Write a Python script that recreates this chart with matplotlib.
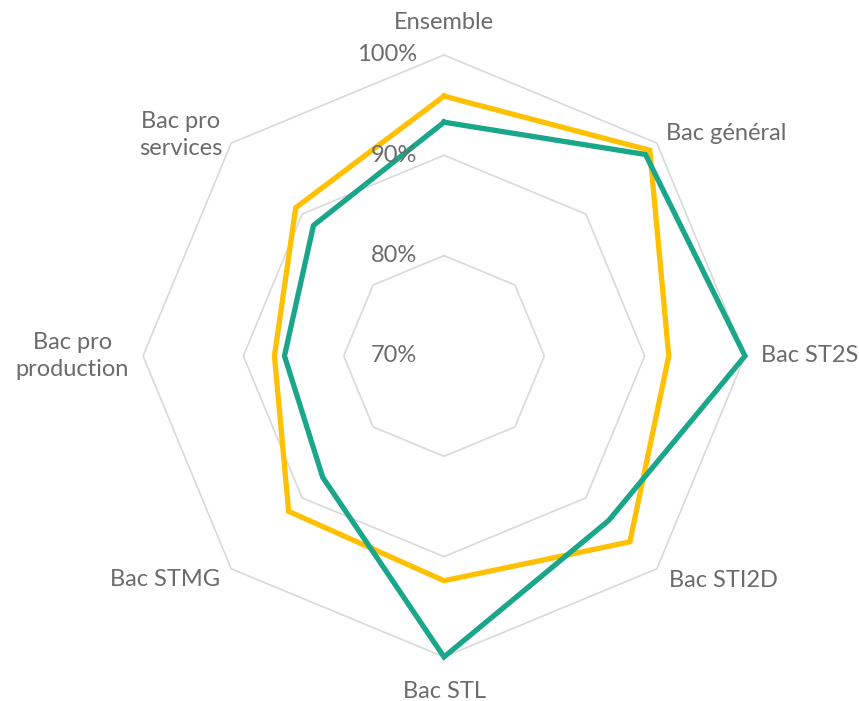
import numpy as np
import matplotlib.pyplot as plt
import matplotlib.transforms as mtransforms

categories = ['Ensemble', 'Bac général', 'Bac ST2S', 'Bac STI2D', 'Bac STL',
              'Bac STMG', 'Bac pro\nproduction', 'Bac pro\nservices']
serie_jaune = [95.9, 99.0, 92.4, 96.2, 92.4, 91.9, 86.9, 90.9]
serie_verte = [93.3, 98.4, 100.0, 93.2, 100.0, 87.1, 85.9, 88.4]
grid_vals = [80, 90, 100]
tick_vals = [70, 80, 90, 100]
tick_labels = ['70%', '80%', '90%', '100%']

plt.rcParams['font.family'] = ['Lato', 'DejaVu Sans']
txt_col = '#6b6b6b'

n = len(categories)
theta = np.arange(n) * 2 * np.pi / n
theta_c = np.append(theta, theta[0])

fig = plt.figure(figsize=(8.59, 7.01), dpi=100)
ax = fig.add_axes([0.1665, 0.0628, 0.7008, 0.8588], projection='polar')
ax.set_theta_offset(np.pi / 2)
ax.set_theta_direction(-1)
ax.set_ylim(70, 100)
ax.grid(False)
ax.spines['polar'].set_visible(False)
ax.set_xticks([])
ax.set_yticks([])

# octagon gridlines
for g in grid_vals:
    ax.plot(theta_c, [g] * (n + 1), color='#d9d9d9', lw=1.2, zorder=1, clip_on=False)

ax.plot(theta_c, serie_jaune + serie_jaune[:1], color='#FFC000', lw=3.8, zorder=3,
        clip_on=False, solid_joinstyle='miter')
ax.plot(theta_c, serie_verte + serie_verte[:1], color='#1AA68A', lw=3.8, zorder=4,
        clip_on=False, solid_joinstyle='miter')

# radial tick labels, placed left of the top spoke
off = mtransforms.ScaledTranslation(-0.27, 0, fig.dpi_scale_trans)
for v, lab in zip(tick_vals, tick_labels):
    ax.text(0, v, lab, transform=ax.transData + off, ha='right', va='center',
            fontsize=17, color=txt_col, zorder=5)

# category labels
lab_r = [103.2, 101.3, 101.6, 101.7, 103.4, 101.5, 101.4, 101.2]
lab_ha = ['center', 'left', 'left', 'left', 'center', 'right', 'right', 'right']
for t, c, r, ha in zip(theta, categories, lab_r, lab_ha):
    ax.text(t, r, c, ha=ha, va='center', multialignment='center',
            fontsize=17, color=txt_col, clip_on=False, linespacing=1.35)

fig.savefig('out.png', dpi=100, facecolor='white')
